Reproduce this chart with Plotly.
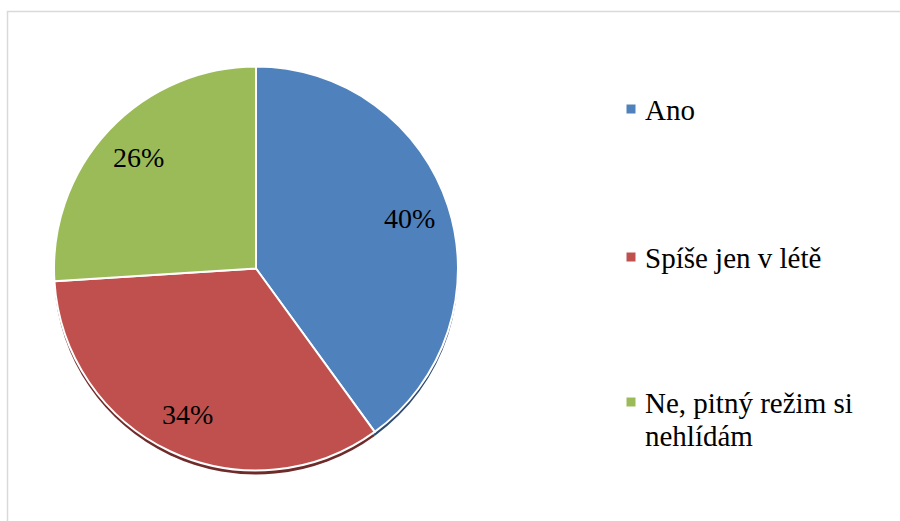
import math
import plotly.graph_objects as go

# Survey answers and their shares (percent)
labels = ["Ano", "Spíše jen v létě", "Ne, pitný režim si<br>nehlídám"]
values = [40, 34, 26]
colors = ["#4F81BD", "#C0504D", "#9BBB59"]
shadow_colors = ["#2E4B70", "#6E2B29", "#5B6E34"]

W, H = 900, 521
FONT = "'Times New Roman', Times, 'Liberation Serif', Tinos, 'DejaVu Serif', serif"

# pie placement in pixels
cx, cy, r = 256, 268.5, 202
shadow_dy = 4
label_radius = 0.8  # data labels sit at this fraction of the radius


def pie_domain(dy=0):
    return dict(
        x=[(cx - r) / W, (cx + r) / W],
        y=[(H - (cy + dy) - r) / H, (H - (cy + dy) + r) / H],
    )


fig = go.Figure()

# soft drop shadow under the pie
fig.add_trace(go.Pie(
    labels=labels, values=values, sort=False, direction="clockwise", rotation=0,
    marker=dict(colors=shadow_colors, line=dict(width=0)),
    textinfo="none", hoverinfo="skip", showlegend=False,
    domain=pie_domain(shadow_dy),
))

fig.add_trace(go.Pie(
    labels=labels, values=values, sort=False, direction="clockwise", rotation=0,
    marker=dict(colors=colors, line=dict(color="white", width=2)),
    textinfo="none", showlegend=False,
    domain=pie_domain(0),
))

annotations = []
shapes = []

# percentage labels placed on each slice's mid-angle
total = sum(values)
cum = 0
for v in values:
    mid = (cum + v / 2) / total * 2 * math.pi
    cum += v
    px = cx + label_radius * r * math.sin(mid)
    py = cy - label_radius * r * math.cos(mid)
    annotations.append(dict(
        text=f"{round(v / total * 100)}%", xref="paper", yref="paper",
        x=px / W, y=(H - py) / H, xanchor="center", yanchor="middle",
        showarrow=False, font=dict(family=FONT, size=28, color="black"),
    ))

# legend drawn on the right: square marker + label lines
legend_x_marker = 631
legend_x_text = 643
legend_centers = [109, 257, 402]
line_gap = 33
for lab, col, yc in zip(labels, colors, legend_centers):
    shapes.append(dict(
        type="rect", xref="paper", yref="paper",
        x0=(legend_x_marker - 4.5) / W, x1=(legend_x_marker + 4.5) / W,
        y0=(H - yc - 4.5) / H, y1=(H - yc + 4.5) / H,
        fillcolor=col, line=dict(width=0),
    ))
    for i, line in enumerate(lab.split("<br>")):
        annotations.append(dict(
            text=line, xref="paper", yref="paper",
            x=legend_x_text / W, y=(H - (yc + 1 + i * line_gap)) / H,
            xanchor="left", yanchor="middle", showarrow=False,
            font=dict(family=FONT, size=29, color="black"),
        ))

# chart area frame
shapes.append(dict(
    type="rect", xref="paper", yref="paper",
    x0=7.5 / W, x1=1.2, y0=-0.2, y1=(H - 11.5) / H,
    line=dict(color="#D9D9D9", width=1.5), fillcolor="rgba(0,0,0,0)",
    layer="below",
))

fig.update_layout(
    width=W, height=H,
    margin=dict(l=0, r=0, t=0, b=0),
    paper_bgcolor="white", plot_bgcolor="white",
    font=dict(family=FONT),
    shapes=shapes, annotations=annotations,
)

fig.write_html("out.html")
